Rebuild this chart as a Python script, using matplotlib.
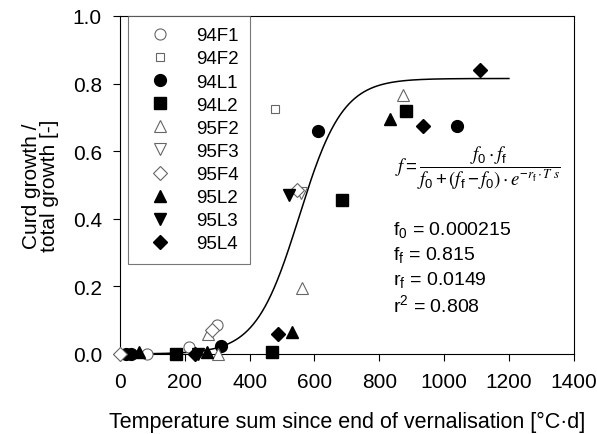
import numpy as np
import matplotlib
matplotlib.use("Agg")
import matplotlib.pyplot as plt

plt.rcParams['font.family'] = ['Liberation Sans', 'DejaVu Sans']
plt.rcParams['mathtext.default'] = 'regular'

# valeurs (x = somme de temperature, y = fraction)
f94F1_x = [83, 300, 212]
f94F1_y = [0.0, 0.085, 0.02]
f94F2_x = [478]
f94F2_y = [0.725]
l94L1_x = [20, 35, 312, 611, 1040]
l94L1_y = [0.0, 0.0, 0.025, 0.66, 0.675]
l94L2_x = [172, 469, 685, 883]
l94L2_y = [0.0, 0.005, 0.455, 0.72]
f95F2_x = [272, 302, 562, 873]
f95F2_y = [0.06, 0.0, 0.195, 0.765]
f95F3_x = [557]
f95F3_y = [0.475]
f95F4_x = [0, 283, 545]
f95F4_y = [0.0, 0.07, 0.485]
l95L2_x = [60, 268, 531, 833]
l95L2_y = [0.005, 0.005, 0.065, 0.695]
l95L3_x = [240, 522]
l95L3_y = [0.0, 0.47]
l95L4_x = [232, 488, 935, 1112]
l95L4_y = [0.0, 0.06, 0.675, 0.84]

# parametres du modele logistique
f0 = 0.000215
ff = 0.815
rf = 0.0149
r2 = 0.808

series = [
    ("94F1", f94F1_x, f94F1_y, "o", False, 8),
    ("94F2", f94F2_x, f94F2_y, "s", False, 6),
    ("94L1", l94L1_x, l94L1_y, "o", True, 8.5),
    ("94L2", l94L2_x, l94L2_y, "s", True, 8.2),
    ("95F2", f95F2_x, f95F2_y, "^", False, 8.5),
    ("95F3", f95F3_x, f95F3_y, "v", False, 8.5),
    ("95F4", f95F4_x, f95F4_y, "D", False, 6.8),
    ("95L2", l95L2_x, l95L2_y, "^", True, 8.2),
    ("95L3", l95L3_x, l95L3_y, "v", True, 8.2),
    ("95L4", l95L4_x, l95L4_y, "D", True, 7.2),
]

fig = plt.figure(figsize=(5.97, 4.35), dpi=100)
ax = fig.add_axes([0.201, 0.184, 0.76, 0.777])

T = np.linspace(0, 1200, 400)
f = f0 * ff / (f0 + (ff - f0) * np.exp(-rf * T))
ax.plot(T, f, color="black", lw=1.1, zorder=2)

for nom, xs, ys, m, plein, ms in series:
    if plein:
        ax.plot(xs, ys, linestyle="none", marker=m, ms=ms, mfc="black",
                mec="black", label=nom, clip_on=False, zorder=3)
    else:
        ax.plot(xs, ys, linestyle="none", marker=m, ms=ms, mfc="white",
                mec="#666666", mew=0.8, label=nom, clip_on=False, zorder=3)

ax.set_xlim(0, 1400)
ax.set_ylim(0, 1.0)
ax.set_xticks(range(0, 1401, 200))
ax.set_yticks([0.0, 0.2, 0.4, 0.6, 0.8, 1.0])
ax.set_yticklabels(["0.0", "0.2", "0.4", "0.6", "0.8", "1.0"])
ax.tick_params(axis="x", direction="out", length=5, width=0.8, labelsize=15, pad=8)
ax.tick_params(axis="y", direction="out", length=5, width=0.8, labelsize=15, pad=8)
for s in ax.spines.values():
    s.set_linewidth(0.8)

ax.set_xlabel("Temperature sum since end of vernalisation [°C·d]", fontsize=15.5, labelpad=14)
ax.set_ylabel("Curd growth /\ntotal growth [-]", fontsize=15, labelpad=10, linespacing=0.9)

leg = ax.legend(loc="upper left", bbox_to_anchor=(0.0176, 1.0), fontsize=13.5,
                frameon=True, fancybox=False, edgecolor="#555555",
                handletextpad=0.85, labelspacing=0.32, borderpad=0.6,
                handlelength=2.2, borderaxespad=0.0)
leg.get_frame().set_linewidth(0.8)

ax.text(0.789, 0.553,
        r"$\mathit{f}=\dfrac{\mathit{f}_0\cdot \mathit{f}_f}{\mathit{f}_0+\left(\mathit{f}_f-\mathit{f}_0\right)\cdot \mathit{e}^{-\mathit{r}_f\cdot \mathit{T\ s}}}$",
        transform=ax.transAxes, ha="center", va="center", fontsize=13.5,
        math_fontfamily="stix")

params = [r"f$_0$ = 0.000215", r"f$_f$ = 0.815", r"r$_f$ = 0.0149", r"r$^2$ = 0.808"]
for i, p in enumerate(params):
    ax.text(0.601, 0.37 - i * 0.074, p, transform=ax.transAxes, ha="left",
            va="center", fontsize=14)

fig.savefig("out.png", dpi=100)
